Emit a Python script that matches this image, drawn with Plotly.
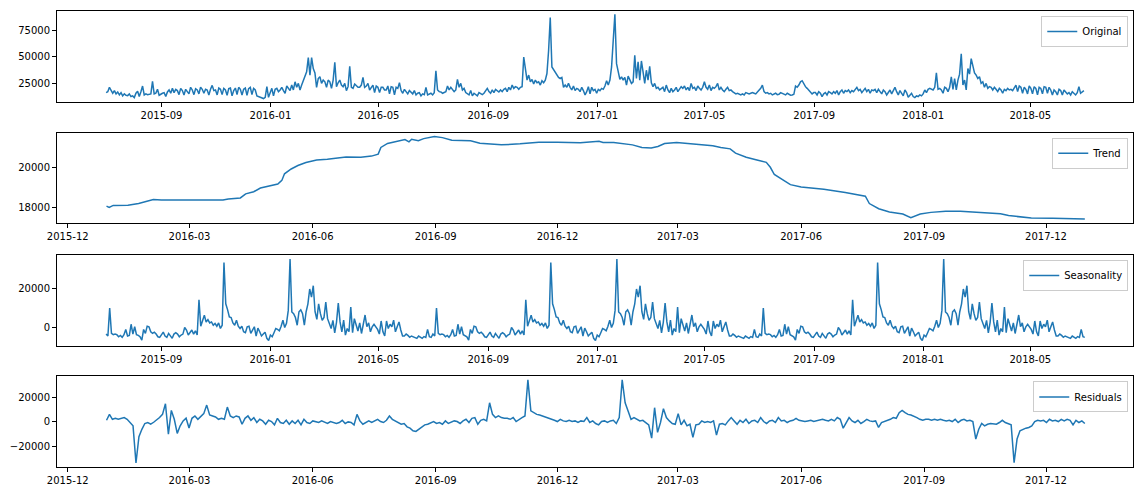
"""Seasonal decomposition of a daily series: original, trend, seasonality, residuals."""

import pandas as pd
import plotly.graph_objects as go
from plotly.subplots import make_subplots

_BLUE = '#1f77b4'
_FONT = dict(family='DejaVu Sans, Arial, sans-serif', size=10, color='#000000')

# ── data ─────────────────────────────────────────────────────────────────────

# original series, evenly spaced from 2015-07-01 to 2018-06-30
orig_start, orig_end = '2015-07-01', '2018-06-30'
orig_values = [
    16000, 16900, 21000, 18500, 15400, 17900, 14800, 16600, 13800, 16000,
    12900, 14800, 13500, 13200, 14800, 12300, 12900, 11300, 15400, 17200,
    12300, 16900, 22200, 13800, 14800, 14100, 14400, 14800, 26600, 14800,
    15400, 19100, 13500, 14800, 15400, 16000, 12300, 16600, 18500, 15400,
    20000, 16000, 19100, 17900, 14100, 20000, 17900, 13800, 19100, 16900,
    14800, 21000, 18500, 14100, 19700, 18500, 14800, 21000, 19100, 15400,
    19100, 18500, 13800, 19100, 22800, 17900, 18500, 13800, 20300, 19100,
    14100, 20000, 18500, 13500, 19700, 20300, 12900, 17900, 20300, 14100,
    21000, 19100, 13800, 19100, 20300, 13500, 19700, 21000, 14100, 20000,
    18500, 12900, 12300, 11600, 11300, 10400, 11600, 21600, 11600, 16000,
    20000, 12900, 19100, 20000, 16900, 18500, 21000, 17900, 15400, 22200,
    20000, 17900, 23100, 18500, 26200, 21000, 24700, 18500, 23100, 27800,
    30900, 35600, 48900, 32500, 48900, 38700, 34600, 21000, 29300, 30900,
    24700, 27800, 26200, 21000, 27800, 26200, 20000, 27800, 44600, 21600,
    25300, 27800, 23100, 21600, 24700, 17900, 21600, 40800, 21000, 20000,
    24100, 22200, 21000, 21000, 23100, 30300, 21000, 22200, 24700, 18500,
    21000, 23100, 16000, 22200, 21000, 16000, 21000,
    21000, 18500, 18500, 22200, 14800, 21600, 21000, 13800, 21000, 20000,
    25300, 17900, 15400, 19100, 16900, 14800, 17900, 16600, 14800, 17900,
    13800, 15400, 16000, 12900, 14800, 14100, 21000, 13800, 14800, 15400,
    13800, 16000, 36500, 18500, 16900, 16600, 15400, 16000, 16900, 22200,
    18500, 21000, 18500, 16900, 18500, 28400, 21000, 24700, 18500, 20000,
    16000, 14800, 13800, 17900, 12900, 15400, 14100, 12900, 16000, 14800,
    14100, 15400, 17900, 20000, 16900, 15400, 18500, 16000, 19100, 17900,
    16600, 18500, 16900, 19100, 20000, 16900, 21000, 18500, 23100, 20000,
    21600, 21000, 19100, 21000, 21600, 49500, 38700, 27800, 32500, 26200,
    28400, 24100, 27800, 25300, 26200, 23100, 27200, 25300, 27800, 34000,
    55700, 86800, 40200, 37700, 34600, 33400, 30300, 29300, 30300, 21000,
    23100, 21000, 24700, 21000, 18500, 22200, 17900, 20000, 19100, 16900,
    21000, 17900, 13800, 16900, 21600, 14800, 21000, 17900, 19100, 15400,
    19100, 17900, 20000, 19100, 22200, 27200, 23100, 27800, 40200, 65100,
    89900, 43300, 34000, 28400, 30900, 27800, 30300, 23100, 31500, 28400,
    24700, 26200, 51100, 29300, 44900, 27800, 45800, 35600, 24700, 37100,
    27800, 40800, 25300, 21600, 24700, 20000, 21000, 18500, 20000, 21000,
    16900, 23100, 18500, 16000, 20000, 16900, 18500, 21000, 16900, 19100,
    21600, 20000, 22200, 18500, 21000, 17900, 24700, 20000, 21000, 17900,
    22200, 20000, 18500, 21000, 26200, 21000, 19100, 23100, 17900, 21000,
    20000, 21600, 24700, 18500, 21000, 18500, 16900, 19100, 21000, 17900,
    18500, 16900, 15400, 14800, 15400, 14800, 13800, 14800, 13800,
    16000, 15400, 14800, 15400, 16000, 15400, 14800, 16600, 18500, 20000,
    23100, 16900, 15400, 16000, 14800, 15400, 13800, 14800, 15400, 14100,
    14400, 16000, 15400, 14100, 13800, 15400, 14800, 13500, 13800, 14400,
    22200, 21000, 23100, 26200, 27200, 24100, 21600, 20000, 18500, 16600,
    14800, 16000, 16000, 13800, 16900, 15400, 12300, 14800, 16000, 13800,
    16900, 16000, 14800, 16900, 15400, 17900, 13800, 16900, 18500, 15400,
    17900, 16900, 18500, 16000, 17900, 16900, 19100, 21000, 17900, 19100,
    16000, 18500, 20000, 16900, 19100, 15400, 18500, 17900, 19100, 16000,
    19100, 16900, 14800, 18500, 16900, 13800, 16900, 18500, 14800, 18500,
    21000, 16900, 13800, 17900, 15400, 12900, 18500, 16000, 11600, 13800,
    15400, 12300, 11300, 12900, 12300, 13800, 12900, 14800, 18500, 16000,
    19100, 20000, 19100, 18500, 21000, 34600, 19100, 20000, 18500, 15400,
    21000, 20000, 16900, 21000, 30900, 19100, 29300, 18500, 27800, 33400,
    52600, 23100, 27800, 18500, 38700, 33400, 48000, 40200, 34600, 32500,
    29300, 30900, 24700, 26200, 21000, 24700, 20000, 21600, 21000, 18500,
    21000, 19100, 16900, 20000, 18500, 15400, 19100, 17900, 20000, 18500,
    19100, 17900, 20000, 23100, 16900, 22200, 21000, 15400, 21000, 19100,
    14800, 22200, 20000, 14800, 21600, 20000, 13800, 21000, 20000, 14800,
    21600, 21000, 15400, 21000, 18500, 13800, 18500, 16900, 13800, 19100,
    17900, 13800, 18500, 16900, 14800, 16000, 13800, 16900, 14800, 13800,
    16000, 21600, 15400, 16900, 17900,
]

# trend (365-day centred window, so only the middle two years exist)
trend_dates = [
    '2015-12-30', '2016-01-01', '2016-01-04', '2016-01-15', '2016-01-23',
    '2016-01-30', '2016-02-03', '2016-02-09', '2016-02-17', '2016-02-20',
    '2016-02-28', '2016-03-08', '2016-03-16', '2016-03-26', '2016-03-30',
    '2016-04-08', '2016-04-12', '2016-04-18', '2016-04-23', '2016-04-29',
    '2016-05-06', '2016-05-09', '2016-05-11', '2016-05-16', '2016-05-21',
    '2016-05-27', '2016-06-04', '2016-06-12', '2016-06-21', '2016-06-26',
    '2016-07-07', '2016-07-15', '2016-07-20', '2016-07-22', '2016-07-27',
    '2016-08-04', '2016-08-09', '2016-08-12', '2016-08-14', '2016-08-19',
    '2016-08-23', '2016-08-31', '2016-09-06', '2016-09-13', '2016-09-27',
    '2016-10-04', '2016-10-12', '2016-10-20', '2016-11-03', '2016-11-17',
    '2016-12-01', '2016-12-18',
    '2017-01-01', '2017-01-04', '2017-01-12', '2017-01-26', '2017-02-02',
    '2017-02-09', '2017-02-14', '2017-02-19', '2017-02-28', '2017-03-08',
    '2017-03-19', '2017-03-27', '2017-04-02', '2017-04-09', '2017-04-13',
    '2017-04-21', '2017-04-29', '2017-05-06', '2017-05-09', '2017-05-12',
    '2017-05-19', '2017-05-24', '2017-06-01', '2017-06-18', '2017-07-04',
    '2017-07-15', '2017-07-19', '2017-07-22', '2017-07-29', '2017-08-06',
    '2017-08-16', '2017-08-22', '2017-08-26', '2017-08-29', '2017-09-06',
    '2017-09-17', '2017-09-28', '2017-10-12', '2017-10-28', '2017-11-03',
    '2017-11-14', '2017-11-20', '2017-12-06', '2017-12-20', '2017-12-30',
]
trend_values = [
    18080, 18016, 18115, 18130, 18210, 18340, 18410, 18390, 18390, 18360,
    18360, 18390, 18380, 18390, 18440, 18490, 18690, 18800, 18980, 19080,
    19180, 19360, 19690, 19930, 20100, 20250, 20380, 20410, 20480, 20520,
    20510, 20570, 20670, 21000, 21200, 21330, 21390, 21280, 21410, 21340,
    21440, 21540, 21490, 21360, 21330, 21210, 21160, 21130, 21180, 21260,
    21260, 21230,
    21310, 21245, 21245, 21130, 21000, 20970, 21050, 21200, 21245, 21200,
    21150, 21080, 21000, 20930, 20720, 20510, 20380, 20260, 20015, 19655,
    19360, 19150, 19030, 18920, 18755, 18640, 18575, 18210, 17950, 17790,
    17690, 17510, 17620, 17690, 17770, 17820, 17820, 17770, 17700, 17610,
    17540, 17490, 17475, 17475, 17440,
]

# one yearly cycle of the seasonal component, every 2 days from 2015-07-01;
# the component is periodic, so the same cycle is shown for all three years
seasonal_start = '2015-07-01'
seasonal_cycle = [
    -3600, -4600, 9900, -3250, -3900, -3600, -3900, -5000, -4300, -5300,
    -3900, -1200, -4600, -4300, 1500, -3600, 200, -3900, -4300, -5000,
    -6700, -1200, -3250, 500, 200, -2400, -3250, -2600, -3600, -5000,
    -5300, -3600, -2600, -4600, -5300, -3250, -4600, -5800, -3600, -2900,
    -3600, -5000, -4100, -3600, -200, -1500, -4100, -2900, -1500, -3600,
    -1900, -4100, 14200, 500, 3200, 6200, 2700, 3900, 2200, 2700,
    1000, 1900, 500, 2200, -700, 1000, 33500, 12100, 9100, 5300,
    5000, 2200, 1000, 3600, 500, -700, 500, -2400, -2900, 200,
    500, -3250, -1500, 200, -4600, -500, -2400, -4600, -3600, -2600,
    -5800, -6900, -4100, -5000, -2900, -700, -1200, -1900, 500, 3600,
    -200, 2000, 8700, 35300, 7900, 7000, 5000, 1000, 8000, 9000,
    7000, 1000, 8000, 12100, 19800, 15600, 21500, 8000, 4000, 12100,
    7000, 3500, 5000, 13000, 4400, 2000, -700, 3500, -3000, 2500,
    12500, 2700, -2400, 3600, -4100, -700, -2400, 10400, -2900, 4400,
    1500, -2000, 2200, -3300, 1500, 6300, 200, 2200, -2400, 200,
    1500, 200, -1200, -3600, 3200, -2400, -4600, 3200, -700, 1500,
    200, 3600, -2400, 200, 2700, -1500, -4600, -4600, -3600, -4300,
    -5300, -4600, -5000, -5300, -5800, -4600, -5300, -5800, -4900, -5300,
    -1200, -5000, -5300,
]

# residuals, evenly spaced over the trend's date span
resid_start, resid_end = '2015-12-30', '2017-12-30'
resid_values = [
    1300, 6100, 2100, 2900, 2100, 2900, 3500, 2100, -500, -3200,
    -33300, -12000, -6000, -1300, -500, -1900, -300, 1300, 3500, 6100,
    14700, -9900, 9300, 2100, -9300, -3200, 800, 3000, -5000, 2900,
    4800, 2100, 4800, 6700, 13600, 5600, 4800, 4000, 2100, 2900,
    2100, 12000, 4800, 3500, 4800, 4000, -1900, 2900, 4800, 1300,
    3500, -500, 2100, 800, -1900, 1300, 300, -2400, 2900, -500,
    -1300, 1300, -1900, 800, -1300, 1300, -2400, 2100, -500, -1300,
    800, 300, -500, 800, 0, -1300, 300, -500, -1300, -500,
    1300, -1300, 0, -500, -2400, 6100, 800, -1900, -500, 800,
    -500, 800, 2100, 300, -500, 1300, 4800, 2100, 800, -500,
    -1900, -1300, -4000, -5100, -7200, -7700, -5900, -4000, -2400, -1900,
    -500, 300, -1300, -500, -1900, 800, -1300, -500, 800, 300,
    -1300, 800, 2100, -500, 2900, 3500, -1900, 1300, 2100, 800,
    15500, 6100, 3500, 4800, 3500, 2900, 2900, 2100, 3500, 300,
    2100, 3500, 4800, 34100, 9000, 7500, 6100, 5600, 4800, 4000,
    3500, 2100, 1300, 300, 2100, 800, 300, 1300, 300, 800,
    -500, 800,
    300, 3500, -500, 800,
    -1300, -2400, 300, 800, -500, 800, 1300, -1300, 3500, 34100,
    15500, 8800, 2100, 3500, 2100, 800, 1300, -500, -2400, -13100,
    11500, -8500, -500, 10700, 3500, 800, -1300, -1900, 6700, -2400,
    1300, -3200, -1900, -12500, -2400, -1900, 800, -500, 300, -500,
    800, -10700, -1900, -1300, -2400, 800, 3500, 800, -1900, 1300,
    -500, 2100, -1300, 800, 1300, -500, 3500, 300, -1300, 800,
    1300, -500, 3500, 800, 1300, -500, 800, 1300, 2900, 1300,
    800, 300, 800, 1300, 300, 800, 1600, 2100, 1300, 800,
    2100, 800, 3500, 2100, -5100, -500, 3500, 800, -500, 1300,
    -1300, 300, 2100, 800, 300, 800, -4500, -500, 300, 800,
    2100, 3500, 2900, 7500, 9300, 7500, 6100, 5600, 4800, 3500,
    2100, 1300, 2100, 2100, 1300, 2100, 1300, 2100, 1300, 800,
    1300, 300, 2100, -500, 1300, 2100, 800, 1300, 300, -13900,
    -5900, -1300, -3200, -1900, -1300, -1300, -1900, -500, 1300, -500,
    -1300, -2400, -33100, -13900, -7200, -5900, -5100, -4500, -3200, 300,
    1300, 800, 1300, -500, 2100, 800, 1300, 300, 2100, 800,
    2100, 1300, -2400, 1300, -500, 800, -1300,
]

# ── series ───────────────────────────────────────────────────────────────────

orig_x = pd.date_range(orig_start, orig_end, periods=len(orig_values))
seasonal_values = seasonal_cycle * 3
seasonal_x = pd.date_range(seasonal_start, periods=len(seasonal_values), freq='2D')
resid_x = pd.date_range(resid_start, resid_end, periods=len(resid_values))

panels = [
    ('Original', orig_x, orig_values),
    ('Trend', pd.to_datetime(trend_dates), trend_values),
    ('Seasonality', seasonal_x, seasonal_values),
    ('Residuals', resid_x, resid_values),
]

# axis limits mimic matplotlib's 5 % autoscale margins
x_full = ['2015-05-07', '2018-08-24']
x_mid = ['2015-11-23', '2018-02-04']
x_ranges = [x_full, x_mid, x_full, x_mid]
x_tick0 = ['2015-09-01', '2015-12-01', '2015-09-01', '2015-12-01']
x_dtick = ['M4', 'M3', 'M4', 'M3']
y_ranges = [[7350, 92900], [17230, 21735], [-9590, 37400], [-36560, 36800]]
y_ticks = [[25000, 50000, 75000], [18000, 20000], [0, 20000], [-20000, 0, 20000]]
domains = [[0.8009, 1.0], [0.5346, 0.7331], [0.2662, 0.4647], [0.0, 0.1985]]

# ── figure ───────────────────────────────────────────────────────────────────

fig = make_subplots(rows=4, cols=1)

for i, (name, x, y) in enumerate(panels, start=1):
    leg = 'legend' if i == 1 else f'legend{i}'
    fig.add_trace(go.Scatter(
        x=x, y=y, mode='lines', name=name,
        line=dict(color=_BLUE, width=1.5),
        legend=leg, showlegend=True,
    ), row=i, col=1)

    ax = dict(
        showline=True, linecolor='#000000', linewidth=1, mirror=True,
        showgrid=False, zeroline=False, ticks='outside', ticklen=4,
        tickcolor='#000000', tickfont=_FONT,
    )
    fig.update_xaxes(
        **ax, range=x_ranges[i - 1], tick0=x_tick0[i - 1],
        dtick=x_dtick[i - 1], tickformat='%Y-%m', row=i, col=1,
    )
    fig.update_yaxes(
        **ax, range=y_ranges[i - 1], tickvals=y_ticks[i - 1],
        tickformat='d', domain=domains[i - 1], row=i, col=1,
    )

    fig.update_layout(**{leg: dict(
        x=0.9956, xanchor='right',
        y=domains[i - 1][1] - 0.0108, yanchor='top',
        bgcolor='rgba(255,255,255,0.8)', bordercolor='#cccccc', borderwidth=1,
        font=_FONT, itemwidth=30,
    )})

fig.update_layout(
    width=1144, height=496,
    margin=dict(l=54, r=10, t=10, b=24),
    paper_bgcolor='white', plot_bgcolor='white',
    font=_FONT,
)

# the page body has a default 8px margin; drop it so the figure sits at 0,0
fig.write_html(
    'out.html',
    config={'displayModeBar': False},
    post_script="document.body.style.margin = '0';",
)
